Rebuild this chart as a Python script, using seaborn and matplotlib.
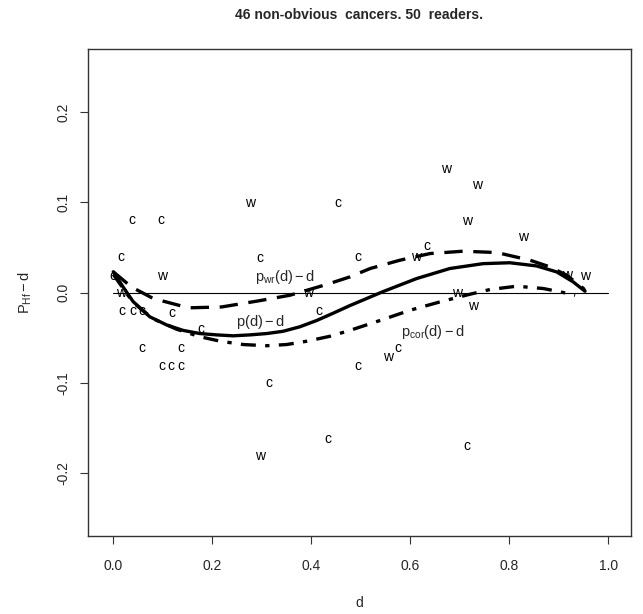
import numpy as np
import pandas as pd
import seaborn as sns
import matplotlib
matplotlib.use("Agg")
import matplotlib.pyplot as plt

# letters placed at (d, P_Hf - d) for each case
c_x = [0.038, 0.097, 0.016, 0.0, 0.017, 0.039, 0.057, 0.119, 0.177, 0.057, 0.136,
       0.098, 0.117, 0.136, 0.315, 0.296, 0.453, 0.416, 0.494, 0.574, 0.434, 0.714,
       0.633, 0.495]
c_y = [0.080, 0.080, 0.039, 0.018, -0.021, -0.021, -0.021, -0.023, -0.040, -0.061, -0.061,
       -0.082, -0.082, -0.082, -0.100, 0.038, 0.099, -0.020, -0.081, -0.061, -0.162, -0.170,
       0.052, 0.039]
w_x = [0.098, 0.015, 0.276, 0.394, 0.556, 0.296, 0.673, 0.734, 0.714, 0.828, 0.611,
       0.916, 0.953, 0.694, 0.727]
w_y = [0.018, -0.001, 0.099, -0.001, -0.071, -0.181, 0.137, 0.119, 0.079, 0.062, 0.039,
       0.019, 0.018, -0.001, -0.015]

# fitted curves
p_x = [0.0, 0.02, 0.04, 0.074, 0.108, 0.141, 0.175, 0.209, 0.242, 0.276, 0.31, 0.343,
       0.377, 0.411, 0.444, 0.478, 0.545, 0.613, 0.68, 0.747, 0.801, 0.855, 0.896, 0.929, 0.953]
p_y = [0.023, 0.006, -0.010, -0.027, -0.036, -0.042, -0.0455, -0.047, -0.048, -0.047, -0.0455,
       -0.043, -0.038, -0.031, -0.023, -0.0145, 0.001, 0.0155, 0.0266, 0.032, 0.033, 0.0295,
       0.0228, 0.0118, 0.0014]
pwr_x = [0.0, 0.037, 0.081, 0.152, 0.219, 0.293, 0.357, 0.431, 0.478, 0.519, 0.579, 0.640,
         0.707, 0.775, 0.842, 0.882, 0.916, 0.950, 0.953]
pwr_y = [0.023, 0.006, -0.0067, -0.017, -0.016, -0.0093, -0.003, 0.0089, 0.0173, 0.0266,
         0.0358, 0.0432, 0.0458, 0.0443, 0.0358, 0.0284, 0.0192, 0.0044, 0.0014]
cor_x = [0.0, 0.04, 0.08, 0.128, 0.175, 0.216, 0.263, 0.31, 0.35, 0.391, 0.438, 0.478,
         0.539, 0.60, 0.66, 0.72, 0.761, 0.815, 0.869, 0.909, 0.933]
cor_y = [0.02, -0.011, -0.029, -0.0407, -0.049, -0.054, -0.0577, -0.059, -0.0577, -0.054,
         -0.0485, -0.042, -0.031, -0.0196, -0.0104, -0.002, 0.0033, 0.007, 0.0044, 0.0, -0.003]

ref_x = [0.0, 1.0]
ref_y = [0.0, 0.0]

x_ticks = [0.0, 0.2, 0.4, 0.6, 0.8, 1.0]
x_ticklabels = ["0.0", "0.2", "0.4", "0.6", "0.8", "1.0"]
y_ticks = [-0.2, -0.1, 0.0, 0.1, 0.2]
y_ticklabels = ["-0.2", "-0.1", "0.0", "0.1", "0.2"]

sns.set_theme(style="white")
plt.rcParams['font.family'] = ['Liberation Sans', 'DejaVu Sans']
plt.rcParams['mathtext.fontset'] = 'custom'
plt.rcParams['mathtext.rm'] = 'Liberation Sans'
plt.rcParams['mathtext.it'] = 'Liberation Sans'
plt.rcParams['axes.unicode_minus'] = False

fig = plt.figure(figsize=(6.43, 6.14), dpi=100)
ax = fig.add_axes([0.1369, 0.127, 0.8445, 0.7932])

ax.plot(ref_x, ref_y, color="black", lw=0.8)

curves = pd.DataFrame({
    "d": p_x + pwr_x + cor_x,
    "val": p_y + pwr_y + cor_y,
    "curve": ["p"] * len(p_x) + ["pwr"] * len(pwr_x) + ["cor"] * len(cor_x),
})
sns.lineplot(data=curves[curves.curve == "p"], x="d", y="val", sort=False,
             color="black", lw=2.4, ax=ax)
sns.lineplot(data=curves[curves.curve == "pwr"], x="d", y="val", sort=False,
             color="black", lw=2.4, dashes=(5.5, 3.2), ax=ax)
sns.lineplot(data=curves[curves.curve == "cor"], x="d", y="val", sort=False,
             color="black", lw=2.4, dashes=(4.5, 2.8, 1.3, 2.8), ax=ax)

for x, y in zip(c_x, c_y):
    ax.text(x, y, "c", ha="center", va="center", fontsize=10, color="black")
for x, y in zip(w_x, w_y):
    ax.text(x, y, "w", ha="center", va="center", fontsize=10, color="black")

ax.text(0.347, 0.017, r"$\mathrm{p_{wr}(d) - d}$", ha="center", va="center", fontsize=10.5)
ax.text(0.297, -0.033, r"$\mathrm{p(d) - d}$", ha="center", va="center", fontsize=10.5)
ax.text(0.646, -0.0437, r"$\mathrm{p_{cor}(d) - d}$", ha="center", va="center", fontsize=10.5)

ax.set_xlim(-0.051, 1.046)
ax.set_ylim(-0.27, 0.27)
ax.set_xticks(x_ticks)
ax.set_xticklabels(x_ticklabels, fontsize=10)
ax.set_yticks(y_ticks)
ax.set_yticklabels(y_ticklabels, fontsize=10, rotation=90, va="center")
ax.tick_params(axis="x", length=5.5, width=0.8, color="#333333", pad=11, direction="out",
               bottom=True)
ax.tick_params(axis="y", length=5.5, width=0.8, color="#333333", pad=7, direction="out",
               left=True)
for s in ax.spines.values():
    s.set_color("#333333")
    s.set_linewidth(1.0)
ax.set_xlabel("")
ax.set_ylabel("")

fig.text(0.559, 1 - 15 / 614, "46 non-obvious  cancers. 50  readers.", ha="center",
         va="center", fontsize=10, fontweight="bold")
fig.text(0.559, 1 - 603 / 614, "d", ha="center", va="center", fontsize=10)
fig.text(25 / 643, 1 - 292.5 / 614, r"$\mathrm{P_{Hf} - d}$", ha="center", va="center",
         rotation=90, fontsize=10.5)

fig.savefig("out.png", dpi=100, facecolor="white")
